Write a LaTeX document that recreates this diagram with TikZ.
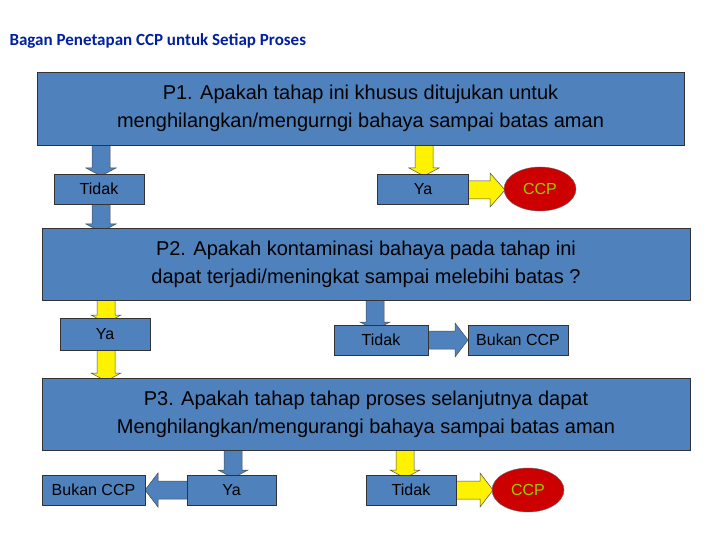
\documentclass[tikz,border=0pt]{standalone}
\usepackage{fontspec}
\setmainfont{Liberation Sans}
\newfontfamily\titlefont{Carlito}
\usetikzlibrary{shapes.geometric}
\definecolor{boxblue}{RGB}{79,129,189}
\definecolor{ccpred}{RGB}{204,0,0}
\definecolor{ccpgreen}{RGB}{153,204,0}
\definecolor{titleblue}{RGB}{0,32,160}
\tikzset{
  big/.style={draw=black!80, fill=boxblue, line width=0.8pt, align=center, font=\fontsize{20}{28}\selectfont, inner sep=0pt},
  small/.style={draw=black!80, fill=boxblue, line width=0.8pt, font=\fontsize{16}{18}\selectfont, inner sep=0pt},
  ccp/.style={ellipse, draw=black!60, fill=ccpred, text=ccpgreen, font=\fontsize{16}{18}\selectfont, minimum width=72pt, minimum height=44pt, inner sep=0pt},
  barrow/.style={draw=black!70, line width=0.5pt}
}
% vertical block arrow: x, ytop, ytip, colour
\newcommand{\vblk}[4]{\draw[barrow, fill=#4] (#1-9,#2) -- (#1+9,#2) -- (#1+9,#3-8) -- (#1+15,#3-8) -- (#1,#3) -- (#1-15,#3-8) -- (#1-9,#3-8) -- cycle;}
% horizontal block arrow: y, xstart, xtip, colour (rightwards if xtip>xstart)
\newcommand{\hblk}[4]{\draw[barrow, fill=#4] (#2,#1-9) -- ($(#3,#1-9)+(#2-#3,0)!8/abs(#2-#3)!(0,0)$) -- cycle;}
\usetikzlibrary{calc}
\begin{document}
\begin{tikzpicture}[x=1pt,y=-1pt]
\useasboundingbox (0,0) rectangle (720,540);
\node[anchor=west, font=\titlefont\bfseries\fontsize{17}{20}\selectfont, text=titleblue] (title) at (6,41) {Bagan Penetapan CCP untuk Setiap Proses};

% arrows first (behind boxes)
\vblk{101}{145}{176}{boxblue}
\vblk{424}{145}{176}{yellow}
\vblk{101}{204}{232}{boxblue}
\vblk{106}{300}{323}{yellow}
\vblk{106}{350}{381}{yellow}
\vblk{375}{300}{330}{boxblue}
\vblk{233}{450}{478}{boxblue}
\vblk{405}{450}{478}{yellow}
% horizontal arrows
\draw[barrow, fill=yellow] (466,181) -- (490,181) -- (490,173) -- (505,190) -- (490,207) -- (490,199) -- (466,199) -- cycle;
\draw[barrow, fill=boxblue] (428,331) -- (455,331) -- (455,323) -- (468,340) -- (455,357) -- (455,349) -- (428,349) -- cycle;
\draw[barrow, fill=boxblue] (189,481) -- (158,481) -- (158,473) -- (145,490) -- (158,507) -- (158,499) -- (189,499) -- cycle;
\draw[barrow, fill=yellow] (454,481) -- (480,481) -- (480,473) -- (493,490) -- (480,507) -- (480,499) -- (454,499) -- cycle;

\node[big, minimum width=647pt, minimum height=73pt] (p1) at (360.5,108.5) {P1. Apakah tahap ini khusus ditujukan untuk\\menghilangkan/mengurngi bahaya sampai batas aman};
\node[small, minimum width=90pt, minimum height=30pt] (t1) at (99,189) {Tidak};
\node[small, minimum width=91pt, minimum height=30pt] (y1) at (423,189) {Ya};
\node[ccp] (c1) at (540,189) {CCP};

\node[big, minimum width=648pt, minimum height=72pt] (p2) at (366,264) {P2. Apakah kontaminasi bahaya pada tahap ini\\dapat terjadi/meningkat sampai melebihi batas ?};
\node[small, minimum width=90pt, minimum height=32pt] (y2) at (105,334) {Ya};
\node[small, minimum width=94pt, minimum height=30pt] (t2) at (381,340) {Tidak};
\node[small, minimum width=100pt, minimum height=30pt] (b2) at (518,340) {Bukan CCP};

\node[big, minimum width=648pt, minimum height=72pt] (p3) at (366,414) {P3. Apakah tahap tahap proses selanjutnya dapat\\Menghilangkan/mengurangi bahaya sampai batas aman};
\node[small, minimum width=103pt, minimum height=30pt] (b3) at (93.5,490) {Bukan CCP};
\node[small, minimum width=89pt, minimum height=30pt] (y3) at (231.5,490) {Ya};
\node[small, minimum width=90pt, minimum height=30pt] (t3) at (411,490) {Tidak};
\node[ccp] (c3) at (528,490) {CCP};
\end{tikzpicture}
\end{document}
